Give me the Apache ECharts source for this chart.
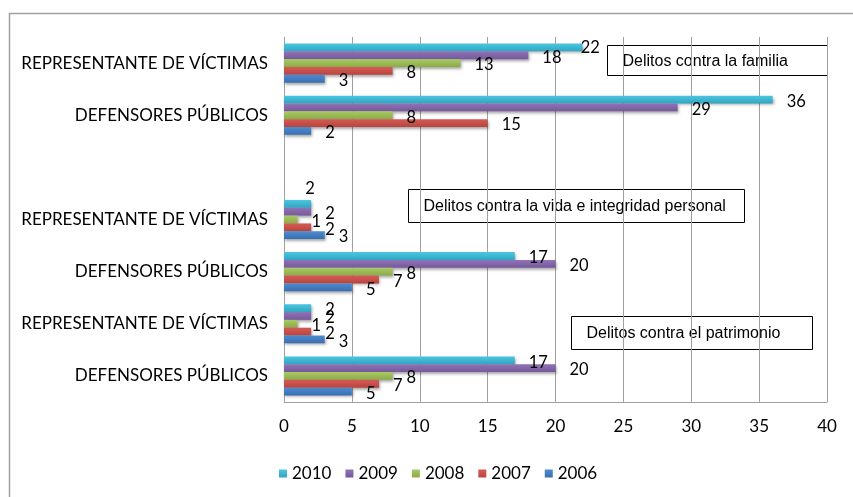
<!DOCTYPE html>
<html>
<head>
<meta charset="utf-8">
<title>Delitos</title>
<script src="https://cdn.jsdelivr.net/npm/echarts@6/dist/echarts.min.js"></script>
<style>
  html, body { margin: 0; padding: 0; background: #fff; }
  #chart { width: 853px; height: 497px; }
</style>
</head>
<body>
<div id="chart"></div>
<script>
// categorias de arriba hacia abajo (la vacia separa el primer grupo)
var categories = [
  'REPRESENTANTE DE VÍCTIMAS', 'DEFENSORES PÚBLICOS', '',
  'REPRESENTANTE DE VÍCTIMAS', 'DEFENSORES PÚBLICOS',
  'REPRESENTANTE DE VÍCTIMAS', 'DEFENSORES PÚBLICOS'
];
var years = ['2010', '2009', '2008', '2007', '2006'];
var v2010 = [22, 36, null, 2, 17, 2, 17];
var v2009 = [18, 29, null, 2, 20, 2, 20];
var v2008 = [13, 8, null, 1, 8, 1, 8];
var v2007 = [8, 15, null, 2, 7, 2, 7];
var v2006 = [3, 2, null, 3, 5, 3, 5];
var xTicks = [0, 5, 10, 15, 20, 25, 30, 35, 40];
var boxes = ['Delitos contra la familia', 'Delitos contra la vida e integridad personal', 'Delitos contra el patrimonio'];

var values = [v2010, v2009, v2008, v2007, v2006];
var colors = [
  ['#4cc6e0', '#2fa6c2'],
  ['#9073b6', '#76599b'],
  ['#a8c963', '#8cab48'],
  ['#d65a55', '#b8443f'],
  ['#4c8bd0', '#3a6fb0']
];

var myChart = echarts.init(document.getElementById('chart'));

var series = years.map(function (y, i) {
  var data = values[i].map(function (v, j) {
    var item = { value: v };
    // etiquetas movidas a mano en el original
    if (i === 0 && j === 0) item.label = { offset: [-16, 0] };
    if (i === 0 && j === 3) item.label = { offset: [-20, -15] };
    return item;
  });
  return {
    name: y,
    type: 'bar',
    barGap: '0%',
    barCategoryGap: '25%',
    data: data,
    itemStyle: {
      color: new echarts.graphic.LinearGradient(0, 0, 0, 1, [
        { offset: 0, color: colors[i][0] },
        { offset: 1, color: colors[i][1] }
      ]),
      shadowColor: 'rgba(0,0,0,0.35)',
      shadowBlur: 3,
      shadowOffsetX: 1,
      shadowOffsetY: 2
    },
    label: {
      show: true,
      position: 'right',
      distance: 14,
      offset: [0, 2],
      fontFamily: 'Lato',
      fontSize: 16.5,
      color: '#000'
    }
  };
});

function box(left, top, w, h, txt) {
  return {
    type: 'group', left: left, top: top,
    children: [
      { type: 'rect', shape: { x: 0, y: 0, width: w, height: h },
        style: { fill: '#fff', stroke: '#000', lineWidth: 1 } },
      { type: 'text', x: 15, y: h / 2 + 1,
        style: { text: txt, fontFamily: 'Liberation Sans', fontSize: 16, fill: '#000', verticalAlign: 'middle' } }
    ]
  };
}

var option = {
  backgroundColor: '#fff',
  animation: false,
  grid: { left: 284, right: 26, top: 37, bottom: 95, containLabel: false },
  legend: {
    data: years,
    left: 274,
    top: 460,
    itemWidth: 8,
    itemHeight: 8,
    itemGap: 14,
    icon: 'rect',
    textStyle: { fontFamily: 'Lato', fontSize: 17, color: '#000' }
  },
  xAxis: {
    type: 'value',
    min: 0, max: 40, interval: 5,
    axisLine: { show: true, lineStyle: { color: '#a0a0a0' } },
    axisTick: { show: false },
    axisLabel: {
      margin: 16, fontFamily: 'Lato', fontSize: 17, color: '#000',
      customValues: xTicks
    },
    splitLine: { show: true, lineStyle: { color: '#a0a0a0', width: 1 } }
  },
  yAxis: {
    type: 'category',
    inverse: true,
    data: categories,
    axisLine: { show: true, lineStyle: { color: '#a0a0a0' } },
    axisTick: { show: false },
    axisLabel: { margin: 16, fontFamily: 'Lato', fontSize: 17, color: '#000' },
    splitLine: { show: false }
  },
  series: series,
  graphic: [
    { type: 'rect', left: 7, top: 11, shape: { width: 860, height: 500 },
      style: { fill: 'none', stroke: '#a0a0a0', lineWidth: 1.5 }, z: -1 },
    box(607, 45, 220, 30, boxes[0]),
    box(408, 189, 336, 33, boxes[1]),
    box(571, 316, 241, 33, boxes[2])
  ]
};

myChart.setOption(option);
</script>
</body>
</html>
